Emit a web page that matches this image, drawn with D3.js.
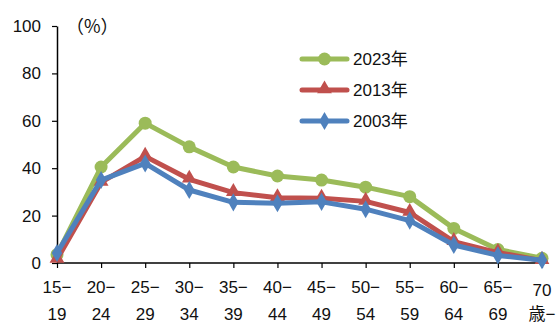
<!DOCTYPE html>
<html>
<head>
<meta charset="utf-8">
<script src="https://cdn.jsdelivr.net/npm/d3@7"></script>
<style>
  html, body { margin: 0; padding: 0; background: #fff; }
  svg { display: block; font-family: "Liberation Sans", "Noto Sans CJK JP", sans-serif; }
</style>
</head>
<body>
<svg id="chart" width="557" height="323"></svg>
<script>
// Age groups (two-line labels)
const ageTop    = ["15−","20−","25−","30−","35−","40−","45−","50−","55−","60−","65−","70"];
const ageBottom = ["19","24","29","34","39","44","49","54","59","64","69","歳−"];
const categories = ageTop.map((t, i) => t + ageBottom[i]);

// Rates by age group (%)
const values2023 = [3.5, 40.5, 59, 49, 40.5, 36.7, 35, 32, 28, 14.6, 5.7, 2];
const values2013 = [1.5, 34, 45, 35.3, 29.7, 27.5, 27.3, 26, 21.3, 9, 4.4, 1];
const values2003 = [4.2, 35, 42, 30.8, 25.6, 25.2, 25.8, 22.7, 17.9, 7.6, 3.2, 1.2];

const yTicks = [0, 20, 40, 60, 80, 100];

const series = [
  { name: "2023年", values: values2023, color: "#9BBB59", marker: "circle" },
  { name: "2013年", values: values2013, color: "#C0504D", marker: "triangle" },
  { name: "2003年", values: values2003, color: "#4F81BD", marker: "diamond" }
];

const FS = 17;
const svg = d3.select("#chart");
const x = d3.scalePoint().domain(categories).range([57, 542]);
const y = d3.scaleLinear().domain([0, 100]).range([263, 26]);

// Y axis
const yAxis = svg.append("g").attr("transform", "translate(57,0)")
  .call(d3.axisLeft(y).tickValues(yTicks).tickSize(5).tickSizeOuter(0));
yAxis.select(".domain").attr("stroke", "#000").attr("stroke-width", 1.5);
yAxis.selectAll(".tick line").attr("stroke", "#000").attr("stroke-width", 1.2);
yAxis.selectAll(".tick text").attr("font-size", FS).attr("fill", "#111").attr("x", -16)
  .attr("font-family", "Liberation Sans, sans-serif");

// X axis
const xAxis = svg.append("g").attr("transform", "translate(0,263)")
  .call(d3.axisBottom(x).tickSize(5).tickSizeOuter(0).tickFormat(""));
xAxis.select(".domain").attr("stroke", "#000").attr("stroke-width", 1.5)
  .attr("d", "M57,0H548");
xAxis.selectAll(".tick line").attr("stroke", "#000").attr("stroke-width", 1.2);

const labels = svg.append("g").attr("font-size", FS).attr("fill", "#111").attr("text-anchor", "middle");
categories.forEach((c, i) => {
  const last = i === categories.length - 1;
  labels.append("text").attr("x", x(c)).attr("y", last ? 296 : 293).text(ageTop[i]);
  labels.append("text").attr("x", x(c)).attr("y", 320).text(ageBottom[i]);
});

// Unit label
svg.append("text").attr("x", 66).attr("y", 33).attr("font-size", 18).attr("fill", "#111")
  .attr("font-family", "Noto Sans CJK JP, sans-serif")
  .text("（%）");

// Marker shapes
function marker(g, type, color, cx, cy) {
  if (type === "circle") {
    g.append("circle").attr("cx", cx).attr("cy", cy).attr("r", 6.5).attr("fill", color);
  } else if (type === "triangle") {
    g.append("path").attr("d", d3.symbol(d3.symbolTriangle, 95)())
      .attr("transform", `translate(${cx},${cy - 1})`).attr("fill", color);
  } else {
    g.append("path").attr("d", d3.symbol(d3.symbolDiamond, 95)())
      .attr("transform", `translate(${cx},${cy})`).attr("fill", color);
  }
}

const line = d3.line().x((d, i) => x(categories[i])).y(d => y(d));

series.forEach(s => {
  const g = svg.append("g");
  g.append("path").datum(s.values).attr("d", line)
    .attr("fill", "none").attr("stroke", s.color).attr("stroke-width", 5)
    .attr("stroke-linejoin", "round");
  s.values.forEach((v, i) => marker(g, s.marker, s.color, x(categories[i]), y(v)));
});

// Legend
const legend = svg.append("g");
series.forEach((s, i) => {
  const ly = 59 + i * 31;
  legend.append("line").attr("x1", 302).attr("x2", 347).attr("y1", ly).attr("y2", ly)
    .attr("stroke", s.color).attr("stroke-width", 5).attr("stroke-linecap", "round");
  marker(legend, s.marker, s.color, 324.5, ly);
  legend.append("text").attr("x", 353).attr("y", ly + 6).attr("font-size", FS).attr("fill", "#111")
    .text(s.name);
});
</script>
</body>
</html>
